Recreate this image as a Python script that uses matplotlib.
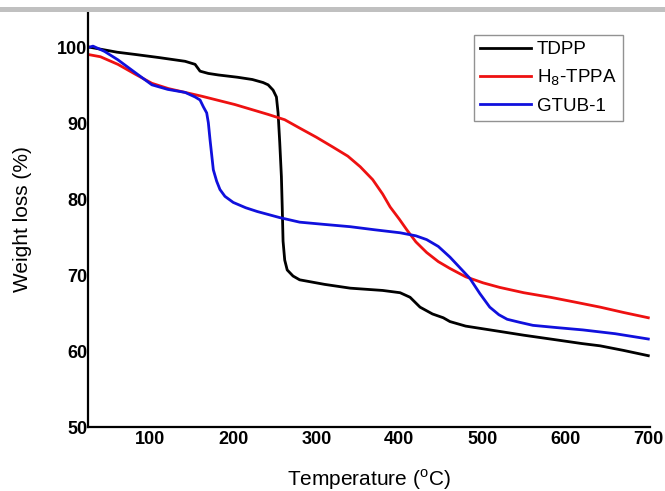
import matplotlib
matplotlib.use("Agg")
import matplotlib.pyplot as plt
from matplotlib.patches import Rectangle

# Data
tdpp_t = [25, 40, 60, 82, 110, 142, 154, 160, 170, 182, 205, 223, 236, 242, 248, 252, 254, 256, 258, 259, 260, 262, 265, 272, 280, 310, 341, 380, 401, 413, 425, 440, 453, 461, 480, 521, 550, 582, 620, 642, 670, 700]
tdpp_w = [100.1, 99.8, 99.4, 99.1, 98.7, 98.2, 97.8, 96.9, 96.6, 96.4, 96.1, 95.8, 95.4, 95.1, 94.4, 93.5, 91.4, 87.5, 83.0, 79.0, 74.5, 72.0, 70.7, 69.9, 69.4, 68.8, 68.3, 68.0, 67.7, 67.1, 65.8, 64.9, 64.4, 63.9, 63.3, 62.6, 62.1, 61.6, 61.0, 60.7, 60.1, 59.4]

tppa_t = [25, 40, 61, 82, 102, 122, 142, 162, 202, 242, 262, 280, 300, 320, 338, 353, 368, 380, 389, 400, 409, 420, 433, 447, 461, 480, 501, 521, 550, 582, 610, 642, 670, 700]
tppa_w = [99.1, 98.8, 97.8, 96.5, 95.3, 94.6, 94.1, 93.6, 92.5, 91.2, 90.5, 89.4, 88.2, 86.9, 85.7, 84.3, 82.6, 80.7, 79.0, 77.4, 76.0, 74.4, 73.0, 71.8, 70.9, 69.8, 69.0, 68.4, 67.7, 67.1, 66.5, 65.8, 65.1, 64.4]

gtub_t = [25, 31, 45, 61, 82, 102, 121, 142, 154, 160, 164, 168, 170, 172, 173, 176, 180, 184, 190, 200, 215, 229, 256, 280, 310, 341, 370, 401, 420, 433, 447, 461, 473, 485, 497, 509, 520, 530, 545, 561, 590, 621, 660, 700]
gtub_w = [100.0, 100.2, 99.5, 98.4, 96.7, 95.1, 94.5, 94.1, 93.5, 93.1, 92.2, 91.4, 90.1, 87.9, 86.9, 83.9, 82.4, 81.3, 80.4, 79.6, 78.9, 78.4, 77.6, 77.0, 76.7, 76.4, 76.0, 75.6, 75.2, 74.7, 73.8, 72.4, 71.0, 69.6, 67.6, 65.8, 64.8, 64.2, 63.8, 63.4, 63.1, 62.8, 62.3, 61.6]

x_ticks = [100, 200, 300, 400, 500, 600, 700]
y_ticks = [50, 60, 70, 80, 90, 100]

plt.rcParams['font.family'] = ['Liberation Sans', 'DejaVu Sans']

fig = plt.figure(figsize=(6.65, 4.91), dpi=100)
ax = fig.add_axes([0.1323, 0.1303, 0.8451, 0.8453])

lw = 2.0
ax.plot(tdpp_t, tdpp_w, color='black', lw=lw, label='TDPP')
ax.plot(tppa_t, tppa_w, color='#ee1111', lw=lw, label=r'H$_8$-TPPA')
ax.plot(gtub_t, gtub_w, color='#1010dd', lw=lw, label='GTUB-1')

ax.set_xlim(25, 702)
ax.set_ylim(50, 104.7)
ax.set_xticks(x_ticks)
ax.set_yticks(y_ticks)
ax.tick_params(axis='both', length=0, labelsize=13)
ax.tick_params(axis='x', pad=3)
ax.tick_params(axis='y', pad=0.5)
for lab in ax.get_xticklabels() + ax.get_yticklabels():
    lab.set_fontweight('bold')

for s in ['top', 'right']:
    ax.spines[s].set_visible(False)
for s in ['left', 'bottom']:
    ax.spines[s].set_linewidth(1.6)

ax.set_xlabel('Temperature ($^\\mathregular{o}$C)', fontsize=15, labelpad=14)
ax.set_ylabel('Weight loss (%)', fontsize=15, labelpad=18)

leg = ax.legend(loc='upper right', bbox_to_anchor=(0.952, 0.945), fontsize=13.5,
                frameon=True, fancybox=False, edgecolor='#777777',
                handlelength=2.7, handletextpad=0.3, borderpad=0.35,
                labelspacing=0.5, borderaxespad=0)
leg.get_frame().set_linewidth(1.0)

fig.patches.append(Rectangle((0, 0.9756), 1, 0.0101, transform=fig.transFigure,
                             facecolor='#c0c0c0', edgecolor='none', zorder=0))

fig.savefig('out.png', dpi=100)
